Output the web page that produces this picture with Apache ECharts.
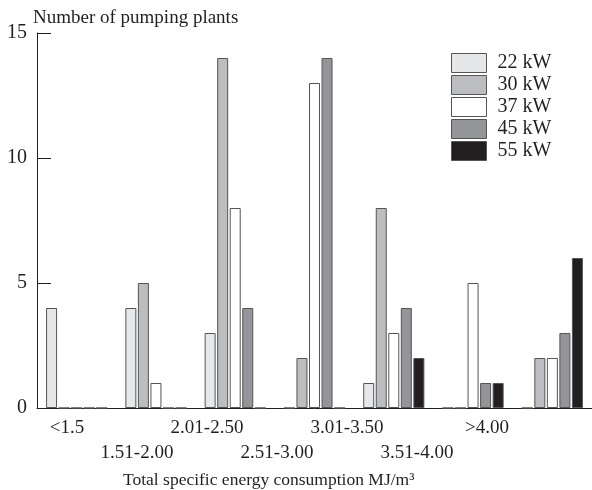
<!DOCTYPE html>
<html><head><meta charset="utf-8">
<script src="https://cdn.jsdelivr.net/npm/echarts@6/dist/echarts.min.js"></script>
<style>html,body{margin:0;padding:0;background:#fff}#c{width:592px;height:490px}</style>
</head><body><div id="c"></div>
<script>
const categories = ['<1.5','1.51-2.00','2.01-2.50','2.51-3.00','3.01-3.50','3.51-4.00','>4.00'];
const seriesNames = ['22 kW','30 kW','37 kW','45 kW','55 kW'];
const v22 = [4,4,3,0,1,0,0];
const v30 = [0,5,14,2,8,0,2];
const v37 = [0,1,8,13,3,5,2];
const v45 = [0,0,4,14,4,1,3];
const v55 = [0,0,0,0,2,1,6];
const yTicks = [0,5,10,15];
const colors = ['#e6e7e9','#bcbdc0','#ffffff','#939598','#231f20'];
const values = [v22,v30,v37,v45,v55];
const font = '"Liberation Serif", "Times New Roman", serif';
const ink = '#231f20';

const chart = echarts.init(document.getElementById('c'));
chart.setOption({
  animation:false,
  textStyle:{fontFamily:font,color:ink},
  grid:[{left:37,top:33,width:556,bottom:82,containLabel:false},
        {left:32,top:33,width:490,bottom:82,containLabel:false}],
  legend:{orient:'vertical',left:451,top:53,itemWidth:35,itemHeight:19,itemGap:2,padding:0,icon:'rect',
    data:seriesNames,
    textStyle:{fontFamily:font,fontSize:20,lineHeight:20,color:ink,padding:[0,0,0,6]},
    itemStyle:{borderColor:'#555',borderWidth:1}},
  xAxis:[{type:'category',gridIndex:0,data:categories,
      axisLine:{lineStyle:{color:ink,width:1}},axisTick:{show:false},axisLabel:{show:false}},
    {type:'category',gridIndex:1,data:categories,position:'bottom',
      axisLine:{show:false},axisTick:{show:false},
      axisLabel:{interval:0,margin:8,fontFamily:font,fontSize:19,color:ink,lineHeight:25,verticalAlign:'top',
        formatter:(v,i)=> i%2 ? ' \n'+v : v+'\n '}}],
  yAxis:[{type:'value',gridIndex:0,min:0,max:15,interval:5,
      axisLine:{show:true,lineStyle:{color:ink,width:1}},
      axisTick:{show:true,inside:true,length:14,lineStyle:{color:ink}},
      splitLine:{show:false},
      axisLabel:{margin:10,fontFamily:font,fontSize:20,color:ink}},
    {type:'value',gridIndex:1,min:0,max:15,show:false}],
  graphic:[
    {type:'text',left:33,top:9,style:{text:'Number of pumping plants',font:'19px "Liberation Serif", serif',fill:ink}},
    {type:'text',left:123,top:471,style:{text:'Total specific energy consumption MJ/m³',font:'17.5px "Liberation Serif", serif',fill:ink}}
  ],
  series: seriesNames.map((n,k)=>({
    name:n,type:'bar',xAxisIndex:0,yAxisIndex:0,data:values[k],barWidth:11,barGap:'14%',
    itemStyle:{color:colors[k],borderColor:'#555',borderWidth:1}
  }))
});
</script></body></html>
